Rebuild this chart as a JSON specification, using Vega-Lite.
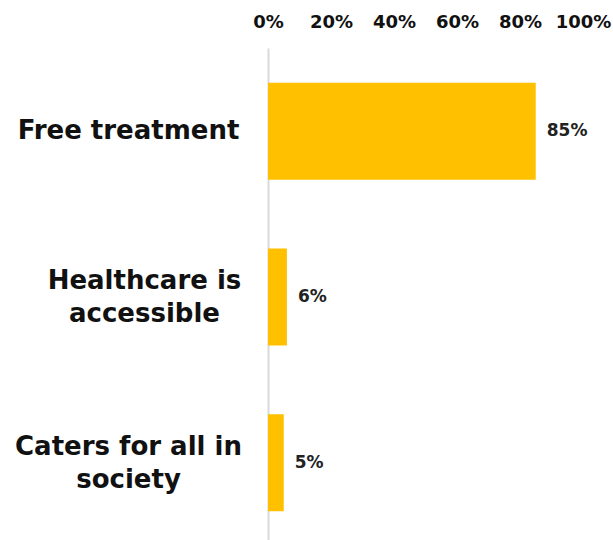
{
  "$schema": "https://vega.github.io/schema/vega-lite/v6.json",
  "width": 315,
  "height": 498,
  "autosize": "none",
  "padding": {"left": 268, "top": 48, "right": 30, "bottom": 0},
  "background": "white",
  "config": {"view": {"stroke": null}},
  "data": {"values": [
    {"reason": "Free treatment", "value": 85, "label": "85%"},
    {"reason": "Healthcare is accessible", "value": 6, "label": "6%"},
    {"reason": "Caters for all in society", "value": 5, "label": "5%"}
  ]},
  "encoding": {
    "y": {"field": "reason", "type": "nominal", "sort": null,
      "scale": {"paddingInner": 0.416, "paddingOuter": 0.21},
      "axis": {"title": null, "ticks": false, "domainColor": "#d9d9d9", "domainWidth": 2,
        "labelFont": "DejaVu Sans", "labelFontWeight": "bold", "labelFontSize": 26, "labelColor": "#111111",
        "labelAlign": "center", "labelLimit": 320, "labelLineHeight": 33,
        "labelPadding": {"condition": {"test": "datum.value == 'Healthcare is accessible'", "value": 124}, "value": 140},
        "labelOffset": {"condition": {"test": "datum.value == 'Free treatment'", "value": 0}, "value": -16},
        "labelExpr": "datum.label == 'Healthcare is accessible' ? ['Healthcare is', 'accessible'] : datum.label == 'Caters for all in society' ? ['Caters for all in', 'society'] : datum.label"}},
    "x": {"field": "value", "type": "quantitative",
      "scale": {"domain": [0, 100]},
      "axis": {"orient": "top", "title": null, "values": [0, 20, 40, 60, 80, 100], "ticks": false, "domain": false, "grid": false,
        "labelExpr": "datum.value + '%'", "labelFont": "DejaVu Sans", "labelFontWeight": "bold", "labelFontSize": 18,
        "labelColor": "#111111", "labelPadding": 17, "labelFlush": false}}
  },
  "layer": [
    {"mark": {"type": "bar", "color": "#FFC000"}},
    {"mark": {"type": "text", "align": "left", "dx": 11, "font": "DejaVu Sans", "fontWeight": "bold", "fontSize": 17, "color": "#222222"},
     "encoding": {"text": {"field": "label", "type": "nominal"}}}
  ]
}
